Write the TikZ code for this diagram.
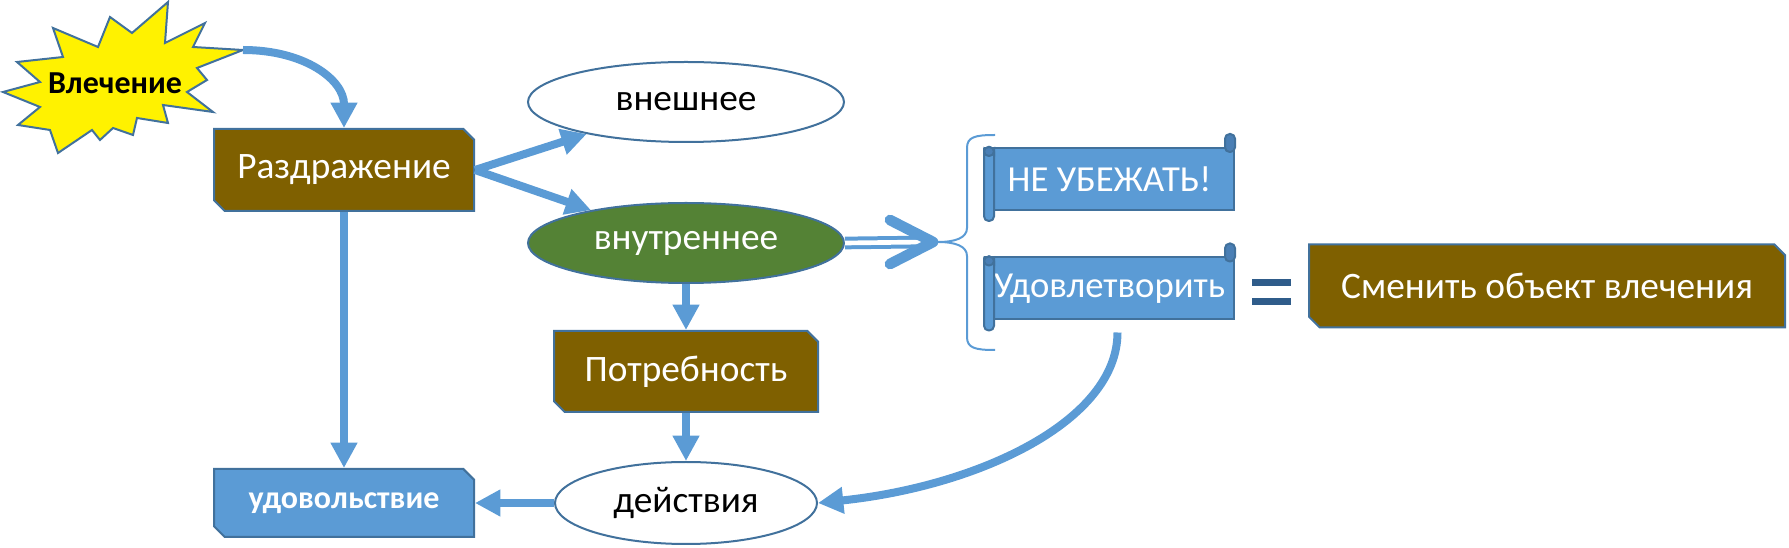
\documentclass[tikz,border=0pt]{standalone}
\usepackage{fontspec}
\setmainfont{Carlito}
\usetikzlibrary{arrows.meta,shapes.geometric,shapes.misc}

\definecolor{snipbrown}{HTML}{7F6000}
\definecolor{flowblue}{HTML}{5B9BD5}
\definecolor{edgeblue}{HTML}{41719C}
\definecolor{ovalgreen}{HTML}{548235}
\definecolor{rolldark}{HTML}{4A7FB5}
\definecolor{eqblue}{HTML}{2F5C8A}

\tikzset{every picture/.style={line width=0.75pt}}
\tikzset{
  snipbox/.style={chamfered rectangle, chamfered rectangle corners={north east,south west},
    chamfered rectangle xsep=4pt, chamfered rectangle ysep=4pt,
    draw=edgeblue, line width=1.5pt, text=white, inner sep=0pt,
    font=\fontsize{28}{34}\selectfont},
  oval/.style={ellipse, draw=edgeblue, line width=1.5pt, inner sep=0pt,
    minimum width=237pt, minimum height=60pt, font=\fontsize{28}{34}\selectfont},
  scrollbody/.style={rectangle, draw=edgeblue, line width=1.5pt, fill=flowblue, text=white,
    inner sep=0pt, minimum width=186.75pt, minimum height=46.5pt,
    font=\fontsize{27.5}{33}\selectfont},
  scrollroll/.style={draw=edgeblue, line width=1.5pt, fill=flowblue, rounded corners=3.5pt},
  burst/.style={draw=edgeblue, line width=1.5pt, fill=yellow},
  bursttext/.style={inner sep=0pt, font=\bfseries\fontsize{24}{29}\selectfont},
  flow/.style={draw=flowblue, line width=6pt, -{Triangle[width=19pt,length=19pt]}},
  bracestyle/.style={draw=flowblue, line width=1.5pt},
  dblline/.style={draw=flowblue, line width=3pt, double=white, double distance=3.5pt},
  chevron/.style={draw=flowblue, line width=8pt, line cap=round, line join=round},
  eqbar/.style={draw=eqblue, line width=5.25pt}
}

\begin{document}
\begin{tikzpicture}[x=0.75pt,y=0.75pt,yscale=-1,xscale=1]
\useasboundingbox (0,0) rectangle (1789,548);

%Shape: Explosion
\draw [burst] (168,2) -- (165,43) -- (205,23) -- (193,47) -- (243,50) -- (197,68) -- (207,80) -- (187,92) -- (213,112) -- (163,105) -- (168,123) -- (137,118) -- (133,135) -- (113,128) -- (100,140) -- (92,130) -- (58,153) -- (50,130) -- (18,125) -- (40,107) -- (3,92) -- (40,82) -- (17,62) -- (63,57) -- (53,28) -- (98,47) -- (110,17) -- (132,33) -- cycle;
\coordinate (bursttip) at (243,50);
\node [bursttext] (vlech) at (115,83) {Влечение};

%Shape: Snip Diagonal Corner Rectangle
\node [snipbox, fill=snipbrown, minimum width=195pt, minimum height=61.5pt] (razd) at (344,170) {Раздражение};
\node [snipbox, fill=snipbrown, minimum width=198pt, minimum height=60.75pt] (potr) at (686,371.5) {Потребность};
\node [snipbox, fill=flowblue, font=\fontsize{24}{29}\selectfont\bfseries, minimum width=195pt, minimum height=51pt] (udov) at (344,503) {удовольствие};
\node [snipbox, fill=snipbrown, minimum width=357pt, minimum height=62.25pt] (smen) at (1547,286) {Сменить объект влечения};

%Shape: Ellipse
\node [oval, fill=white] (vnesh) at (686,102) {внешнее};
\node [oval, fill=ovalgreen, text=white] (vnutr) at (686,243) {внутреннее};
\node [oval, fill=white, minimum width=196.5pt, minimum height=61.5pt] (deystv) at (686,503) {действия};

%Shape: Horizontal Scroll
\node [scrollbody] (nebezh) at (1109.5,179) {НЕ УБЕЖАТЬ!};
\draw [scrollroll] (nebezh.north west) rectangle ([shift={(10,10)}]nebezh.south west);
\draw [scrollroll, fill=rolldark] (nebezh.north west) rectangle ([shift={(10,9)}]nebezh.north west);
\draw [scrollroll, fill=rolldark] ([shift={(-10,-13)}]nebezh.north east) rectangle ([shift={(0,5)}]nebezh.north east);
\node [scrollbody] (udovl) at (1109.5,288.5) {Удовлетворить};
\draw [scrollroll] (udovl.north west) rectangle ([shift={(10,10)}]udovl.south west);
\draw [scrollroll, fill=rolldark] (udovl.north west) rectangle ([shift={(10,9)}]udovl.north west);
\draw [scrollroll, fill=rolldark] ([shift={(-10,-13)}]udovl.north east) rectangle ([shift={(0,5)}]udovl.north east);

%Shape: Brace
\coordinate (bracetip) at (938,242);
\draw [bracestyle] (995,135) .. controls (975,135) and (967,137) .. (967,148) -- (967,228) .. controls (967,238) and (955,242) .. (bracetip) .. controls (955,242) and (967,246) .. (967,256) -- (967,337) .. controls (967,348) and (975,350) .. (995,350);

%Shape: Equal
\draw [eqbar] (1252,283) -- (1291,283);
\draw [eqbar] (1252,302) -- (1291,302);

%Straight Lines
\draw [flow] (razd.east) -- (vnesh);
\draw [flow] (razd.east) -- (vnutr);
\draw [flow] (razd.south) -- (udov.north);
\draw [flow] (vnutr.south) -- (potr.north);
\draw [flow] (potr.south) -- (deystv.north);
\draw [flow] (deystv.west) -- (udov.east);

%Double Arrow
\draw [dblline] (vnutr.east) -- ([shift={(-14,0)}]bracetip);
\draw [chevron] ([shift={(-48,-22)}]bracetip) -- ([shift={(-5,0)}]bracetip) -- ([shift={(-48,22)}]bracetip);

%Curve Lines
\draw [flow] (bursttip) .. controls +(62,0) and +(0,-48) .. (razd.north);
\draw [flow] ([shift={(8,12)}]udovl.south) .. controls +(0,88) and +(162,-17) .. (deystv.east);

\end{tikzpicture}
\end{document}
